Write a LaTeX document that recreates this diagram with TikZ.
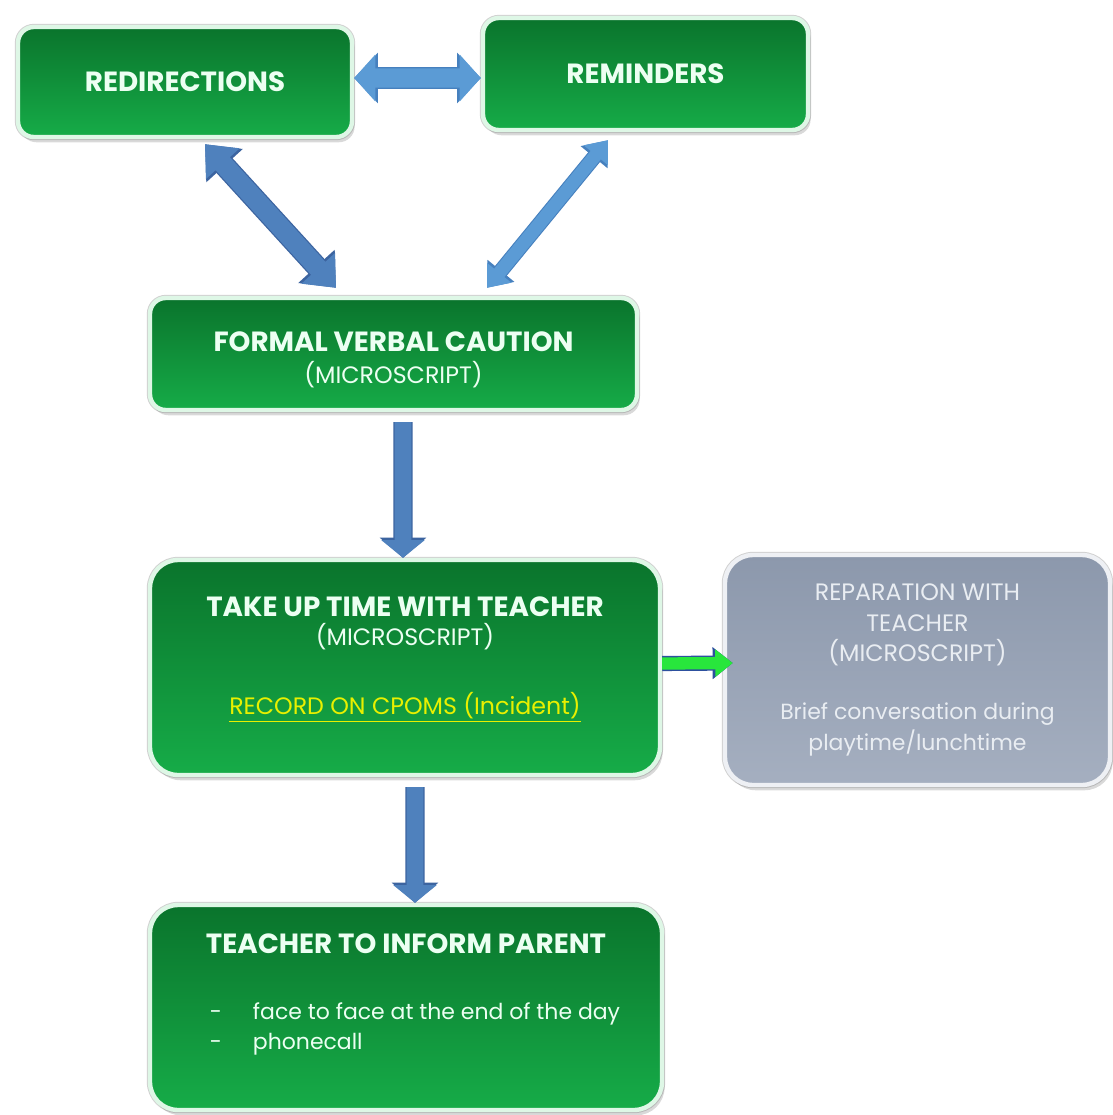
\documentclass[tikz,border=0pt]{standalone}
\usepackage{fontspec}
\setmainfont{Poppins}
\usetikzlibrary{arrows.meta,shadows}

\definecolor{greentop}{RGB}{10,116,44}
\definecolor{greenbot}{RGB}{22,172,72}
\definecolor{mintline}{RGB}{222,247,230}
\definecolor{minttext}{RGB}{236,255,242}
\definecolor{greytop}{RGB}{140,152,172}
\definecolor{greybot}{RGB}{165,175,192}
\definecolor{greyline}{RGB}{238,240,244}
\definecolor{greytext}{RGB}{233,237,242}
\definecolor{recordyellow}{RGB}{232,240,0}
\definecolor{arrowblue}{RGB}{79,129,189}
\definecolor{arrowedge}{RGB}{60,100,160}
\definecolor{lightblue}{RGB}{91,155,213}
\definecolor{lightedge}{RGB}{70,128,190}
\definecolor{brightgreen}{RGB}{40,230,60}
\definecolor{greenedge}{RGB}{45,80,158}

\newcommand{\titlefont}{\fontsize{15.8}{18}\selectfont\bfseries}
\newcommand{\capsfont}{\fontsize{13.5}{17.5}\selectfont}
\newcommand{\notefont}{\fontsize{12.5}{17.5}\selectfont}

\tikzset{
	box/.style={rectangle, rounded corners=9pt, draw=mintline, line width=2.5pt,
		top color=greentop, bottom color=greenbot, text=minttext, align=center, inner sep=0pt,
		preaction={draw=black!18, line width=3.6pt},
		drop shadow={shadow xshift=1.5pt, shadow yshift=-3pt, opacity=0.3}},
	bigbox/.style={box, rounded corners=16pt},
	greybox/.style={bigbox, top color=greytop, bottom color=greybot, draw=greyline, text=greytext},
	toparrow/.style={draw=lightblue, line width=11pt,
		{Triangle[width=26pt,length=12pt]}-{Triangle[width=26pt,length=12pt]},
		preaction={draw=lightedge, line width=12.4pt,
			{Triangle[width=28pt,length=13.5pt]}-{Triangle[width=28pt,length=13.5pt]}}},
	leftarrow/.style={draw=arrowblue, line width=11pt,
		{Triangle[width=25pt,length=15pt]}-{Triangle[width=25pt,length=15pt]},
		preaction={draw=arrowedge, line width=12.4pt,
			{Triangle[width=27pt,length=16.5pt]}-{Triangle[width=27pt,length=16.5pt]}}},
	rightarrow/.style={draw=lightblue, line width=7.5pt,
		{Triangle[width=17pt,length=11pt]}-{Triangle[width=17pt,length=11pt]},
		preaction={draw=lightedge, line width=8.7pt,
			{Triangle[width=19pt,length=12.5pt]}-{Triangle[width=19pt,length=12.5pt]}}},
	downarrow/.style={draw=arrowblue, line width=9.5pt,
		-{Triangle[width=24pt,length=10pt]},
		preaction={draw=arrowedge, line width=10.9pt,
			-{Triangle[width=26pt,length=11.5pt]}}},
	sidearrow/.style={draw=brightgreen, line width=7pt,
		-{Triangle[width=15pt,length=10pt]},
		preaction={draw=greenedge, line width=8.6pt,
			-{Triangle[width=17.5pt,length=11.5pt]}}}
}

\begin{document}
\begin{tikzpicture}
	\useasboundingbox (0,0) rectangle (22.24,-22.30);

	\node[box, font=\titlefont, minimum width=6.68cm, minimum height=2.2cm] (redir) at (3.70,-1.64) {REDIRECTIONS};
	\node[box, font=\titlefont, minimum width=6.5cm, minimum height=2.24cm] (remind) at (12.91,-1.48) {REMINDERS};
	\node[box, font=\notefont, minimum width=9.74cm, minimum height=2.24cm] (caution) at (7.87,-7.08)
		{\titlefont\rule{0pt}{18pt}FORMAL VERBAL CAUTION\\[1pt]\capsfont (MICROSCRIPT)};
	\node[bigbox, minimum width=10.2cm, minimum height=4.3cm] (takeup) at (8.10,-13.35)
		{\begin{minipage}[c][4.1cm][t]{9.8cm}\centering\notefont
			\vspace*{18pt}
			{\titlefont TAKE UP TIME WITH TEACHER}\\[-1pt]
			{\capsfont (MICROSCRIPT)}\\[22pt]
			{\capsfont\color{recordyellow}\underline{RECORD ON CPOMS (Incident)}}
		\end{minipage}};
	\node[greybox, font=\notefont, minimum width=7.7cm, minimum height=4.6cm] (repair) at (18.35,-13.40)
		{\capsfont REPARATION WITH\\\capsfont TEACHER\\\capsfont (MICROSCRIPT)\\[15pt]
			Brief conversation during\\[0.5pt]playtime/lunchtime};
	\node[bigbox, minimum width=10.24cm, minimum height=4.1cm] (inform) at (8.12,-20.15)
		{\begin{minipage}[c][3.9cm][t]{9.8cm}\centering\notefont
			\vspace*{13.7pt}
			{\titlefont TEACHER TO INFORM PARENT}\par\vspace{19.7pt}
			\raggedright
			\hspace*{0.98cm}\makebox[0.86cm][l]{-}face to face at the end of the day\\
			\hspace*{0.98cm}\makebox[0.86cm][l]{-}phonecall
		\end{minipage}};

	\draw[toparrow] ([yshift=0.08cm]redir.east) -- ([yshift=-0.08cm]remind.west);
	\draw[leftarrow] ([xshift=0.4cm,yshift=-0.1cm]redir.south) -- ([xshift=-1.15cm,yshift=0.16cm]caution.north);
	\draw[rightarrow] ([xshift=-0.75cm,yshift=-0.16cm]remind.south) -- ([xshift=1.87cm,yshift=0.16cm]caution.north);
	\draw[downarrow] ([xshift=0.19cm,yshift=-0.2cm]caution.south) -- ([xshift=-0.04cm]takeup.north);
	\draw[downarrow] ([xshift=0.2cm,yshift=-0.2cm]takeup.south) -- ([xshift=0.18cm]inform.north);
	\draw[sidearrow] ([yshift=0.08cm]takeup.east) -- ([xshift=0.2cm,yshift=0.14cm]repair.west);
\end{tikzpicture}
\end{document}
